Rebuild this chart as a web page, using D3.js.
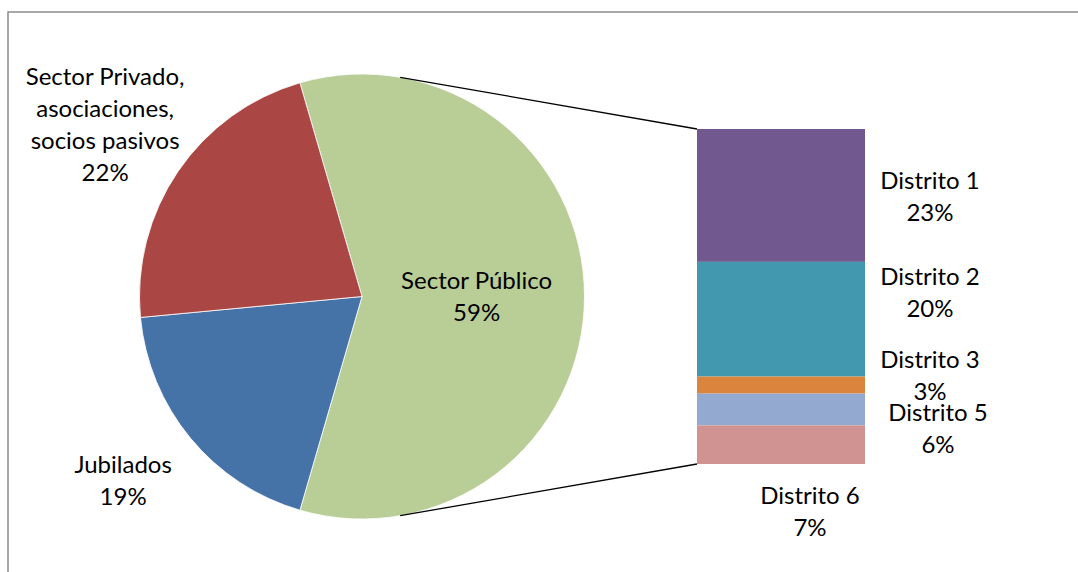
<!DOCTYPE html>
<html>
<head>
<meta charset="utf-8">
<script src="https://cdn.jsdelivr.net/npm/d3@7"></script>
<style>
  body { margin: 0; background: #fff; }
  text { font-family: Lato, "Open Sans", sans-serif; fill: #000; }
</style>
</head>
<body>
<svg id="chart"></svg>
<script>
// pie slices (share of total, %)
const pieNames = ["Sector Público", "Jubilados", "Sector Privado, asociaciones, socios pasivos"];
const pieValues = [59, 19, 22];
const pieColors = ["#B9CD96", "#4572A7", "#AA4643"];

// breakdown of "Sector Público" (%)
const barNames = ["Distrito 1", "Distrito 2", "Distrito 3", "Distrito 5", "Distrito 6"];
const barValues = [23.4, 20.2, 3.0, 5.6, 6.8];
const barColors = ["#71588F", "#4198AF", "#DB843D", "#93A9CF", "#D19392"];

const width = 1078, height = 572;
const cx = 362, cy = 296.5, r = 222.5;
const barX = 697, barW = 168, barTop = 129, barBottom = 464;
const fontSize = 24, lineH = 32;

const svg = d3.select("#chart").attr("width", width).attr("height", height);

// frame
svg.append("rect")
  .attr("x", 8).attr("y", 12)
  .attr("width", width + 20).attr("height", height + 20)
  .attr("fill", "none").attr("stroke", "#8c8c8c").attr("stroke-width", 1.5);

const total = d3.sum(pieValues);
const pct = d3.format(".0%");

// pie, split slice centered on the right side (3 o'clock)
const splitShare = pieValues[0] / total;
const start = Math.PI / 2 - Math.PI * splitShare;
const pie = d3.pie().sort(null).value(d => d)
  .startAngle(start)
  .endAngle(start + 2 * Math.PI);
const arcs = pie(pieValues);
const arc = d3.arc().innerRadius(0).outerRadius(r);

const g = svg.append("g").attr("transform", `translate(${cx},${cy})`);
g.selectAll("path.slice")
  .data(arcs)
  .enter()
  .append("path")
  .attr("class", "slice")
  .attr("d", arc)
  .attr("fill", (d, i) => pieColors[i])
  .attr("stroke", "#fff")
  .attr("stroke-width", 0.8);

// bar of the split slice
const y = d3.scaleLinear().domain([0, d3.sum(barValues)]).range([barTop, barBottom]);
const stack = [];
let acc = 0;
barValues.forEach((v, i) => {
  stack.push({ name: barNames[i], value: v, y0: acc, y1: acc + v, color: barColors[i] });
  acc += v;
});

svg.selectAll("rect.seg")
  .data(stack)
  .enter()
  .append("rect")
  .attr("class", "seg")
  .attr("x", barX)
  .attr("width", barW)
  .attr("y", d => y(d.y0))
  .attr("height", d => y(d.y1) - y(d.y0))
  .attr("fill", d => d.color);

// connector lines: tangents from bar corners to the circle
function tangent(px, py, upper) {
  const dx = px - cx, dy = py - cy;
  const d = Math.hypot(dx, dy);
  const base = Math.atan2(dy, dx);
  const off = Math.acos(r / d);
  const a = upper ? base - off : base + off;
  return [cx + r * Math.cos(a), cy + r * Math.sin(a)];
}
const t1 = tangent(barX, y(0), true);
const t2 = tangent(barX, y(d3.sum(barValues)), false);
svg.append("line")
  .attr("x1", t1[0]).attr("y1", t1[1]).attr("x2", barX).attr("y2", y(0))
  .attr("stroke", "#000").attr("stroke-width", 1.3);
svg.append("line")
  .attr("x1", t2[0]).attr("y1", t2[1]).attr("x2", barX).attr("y2", y(d3.sum(barValues)))
  .attr("stroke", "#000").attr("stroke-width", 1.3);

function label(x, yc, lines) {
  const t = svg.append("text")
    .attr("text-anchor", "middle")
    .style("font-size", fontSize + "px");
  const y0 = yc - (lines.length - 1) * lineH / 2;
  lines.forEach((s, i) => {
    t.append("tspan")
      .attr("x", x)
      .attr("y", y0 + i * lineH)
      .attr("dy", "0.35em")
      .text(s);
  });
}

// pie labels
const pieLabelLines = [
  [pieNames[0]],
  [pieNames[1]],
  ["Sector Privado,", "asociaciones,", "socios pasivos"]
];
const pieLabelRadius = [0.515, 1.37, 1.385];
const pieLabelNudge = [[0, 0], [-4, -10], [-2, 1]];
arcs.forEach((a, i) => {
  const mid = (a.startAngle + a.endAngle) / 2;
  const rr = r * pieLabelRadius[i];
  const lx = cx + rr * Math.sin(mid) + pieLabelNudge[i][0];
  const ly = cy - rr * Math.cos(mid) + pieLabelNudge[i][1];
  label(lx, ly, pieLabelLines[i].concat(pct(a.data / total)));
});

// bar labels (offsets from segment, as placed by the original chart)
const barLabelDx = [65, 65, 65, 73, -55];
const barLabelDy = [1, -26.5, -9, 19, 66.5];
stack.forEach((d, i) => {
  const lx = barX + barW + barLabelDx[i];
  const ly = (y(d.y0) + y(d.y1)) / 2 + barLabelDy[i];
  label(lx, ly, [d.name, pct(d.value / total)]);
});
</script>
</body>
</html>
